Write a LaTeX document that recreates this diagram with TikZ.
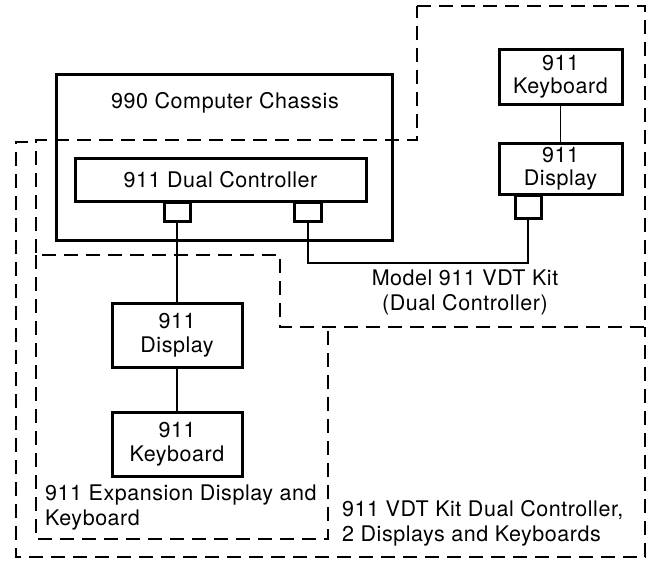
\documentclass[tikz,border=0pt]{standalone}
\usepackage{fontspec}
\setmainfont{TeX Gyre Heros}[LetterSpace=2.5]

\begin{document}
\begin{tikzpicture}[x=1pt, y=-1pt,
    unitbox/.style={draw, line width=3pt, inner sep=0pt, align=center,
        font=\fontsize{21.5}{23.5}\selectfont},
    portbox/.style={draw, line width=3pt, inner sep=0pt},
    wire/.style={line width=1.5pt},
    kitline/.style={line width=2.1pt, dash pattern=on 14pt off 8pt},
    kitlabel/.style={inner sep=0pt, font=\fontsize{21.5}{25}\selectfont}]

            \useasboundingbox (0,0) rectangle (648,560);

            % chassis and controller
            \node[unitbox, minimum width=336pt, minimum height=166pt] (chassis) at (224,157) {};
            \node[kitlabel] (chassislbl) at (225,103) {990 Computer Chassis};
            \node[unitbox, minimum width=291pt, minimum height=43pt] (ctrl) at (220.5,179.5) {911 Dual Controller};
            \node[portbox, minimum width=26pt, minimum height=19pt, anchor=north] (conL) at (177,201) {};
            \node[portbox, minimum width=27pt, minimum height=19pt, anchor=north] (conR) at (308,201) {};

            % right-hand display and keyboard
            \node[unitbox, minimum width=123pt, minimum height=55pt] (kbR) at (560.5,76.5) {911\\Keyboard};
            \node[unitbox, minimum width=123pt, minimum height=51pt] (dispR) at (560.5,168.5) {911\\Display};
            \node[portbox, minimum width=26pt, minimum height=23pt, anchor=north] (conD) at (528,194) {};

            % expansion display and keyboard
            \node[unitbox, minimum width=130pt, minimum height=64pt] (dispL) at (177,335) {911\\Display};
            \node[unitbox, minimum width=130pt, minimum height=64pt] (kbL) at (177,444) {911\\Keyboard};

            % cables
            \coordinate (bend) at (528,263);
            \draw[wire] (conL.south) -- (dispL.north);
            \draw[wire] (dispL.south) -- (kbL.north);
            \draw[wire] (kbR.south) -- (dispR.north);
            \draw[wire] (conR.south) |- (bend) -- (conD.south);

            % kit outlines
            \draw[kitline] (417,6) -- (645,6) -- (645,327) -- (280,327) -- (280,255)
                -- (36,255) -- (36,140) -- (417,140) -- cycle;
            \draw[kitline] (36,255) -- (36,539) -- (328,539) -- (328,327);
            \draw[kitline] (28,142) -- (16,142) -- (16,557) -- (645,557) -- (645,327);

            \node[kitlabel, align=center] (modellbl) at (465,292) {Model 911 VDT Kit\\(Dual Controller)};
            \node[kitlabel, align=left, anchor=west] (explbl) at (45,507) {911 Expansion Display and\\Keyboard};
            \node[kitlabel, align=left, anchor=west] (kitlbl) at (342,523) {911 VDT Kit Dual Controller,\\2 Displays and Keyboards};

        \end{tikzpicture}
\end{document}
